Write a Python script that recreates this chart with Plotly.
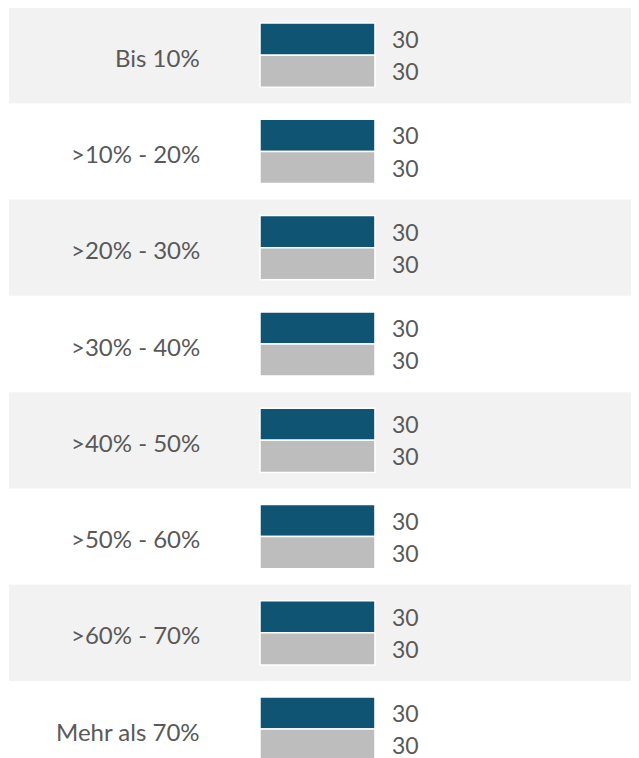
import plotly.graph_objects as go

categories = ["Bis 10%", ">10% - 20%", ">20% - 30%", ">30% - 40%",
              ">40% - 50%", ">50% - 60%", ">60% - 70%", "Mehr als 70%"]
series_a = [30, 30, 30, 30, 30, 30, 30, 30]
series_b = [30, 30, 30, 30, 30, 30, 30, 30]

DARK = "#0f5573"
GREY = "#bdbdbd"
TEXT = "#595959"
FONT = "Lato"

pos = list(range(len(categories)))

fig = go.Figure()
fig.add_trace(go.Bar(y=pos, x=series_a, orientation="h", marker=dict(color=DARK, line=dict(color="white", width=1.5)),
                     showlegend=False, hoverinfo="skip"))
fig.add_trace(go.Bar(y=pos, x=series_b, orientation="h", marker=dict(color=GREY, line=dict(color="white", width=1.5)),
                     showlegend=False, hoverinfo="skip"))

# alternating row bands
for i in pos:
    if i % 2 == 0:
        fig.add_shape(type="rect", xref="x domain", yref="y", x0=0, x1=1, y0=i - 0.5, y1=i + 0.5,
                      fillcolor="#f2f2f2", line_width=0, layer="below")

off = 1 / 6
for i, cat in enumerate(categories):
    fig.add_annotation(x=0, y=i, text=cat, xref="x", yref="y", xanchor="right", xshift=-58, yshift=-2,
                       showarrow=False, font=dict(family=FONT, size=24, color=TEXT))
    fig.add_annotation(x=series_a[i], y=i - off, text=str(series_a[i]), xanchor="left", xshift=15,
                       showarrow=False, font=dict(family=FONT, size=23, color=TEXT))
    fig.add_annotation(x=series_b[i], y=i + off, text=str(series_b[i]), xanchor="left", xshift=15,
                       showarrow=False, font=dict(family=FONT, size=23, color=TEXT))

fig.update_layout(
    width=631, height=750,
    margin=dict(l=1, r=0, t=0, b=0),
    barmode="group", bargap=0.333, bargroupgap=0,
    plot_bgcolor="white", paper_bgcolor="white",
    xaxis=dict(range=[-65.5, 98.9], visible=False, fixedrange=True),
    yaxis=dict(range=[7.3, -0.49], visible=False, fixedrange=True),
)
fig.write_html("out.html")
